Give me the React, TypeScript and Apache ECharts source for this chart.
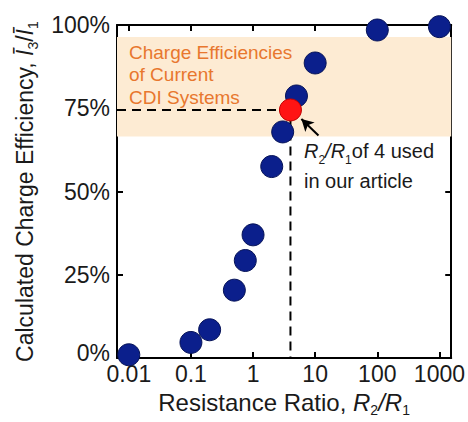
import React, { useEffect, useRef } from "react";
import * as echarts from "echarts";

const ratios = [0.01, 0.1, 0.2, 0.5, 0.75, 1, 2, 3, 5, 10, 100, 1000];
const efficiencies = [1, 4.7, 8.5, 20.4, 29.3, 37, 57.5, 67.9, 78.7, 88.6, 98.5, 99.5];
const usedRatio = [4];
const usedEfficiency = [74.5];
const bandRange = [66.5, 96.4];
const xTickExponents = [-2, -1, 0, 1, 2, 3];
const xTickLabels = ["0.01", "0.1", "1", "10", "100", "1000"];
const arrowFrom = [11.3, 66.8];
const arrowTo = [6.0, 71.8];

const X_MIN = -2.19;
const X_MAX = 3.19;
const FONT = "'Liberation Sans', Arial, Helvetica, sans-serif";
const INK = "#1a1a1a";

export default function App() {
  const ref = useRef<HTMLDivElement>(null);
  useEffect(() => {
    if (!ref.current) return;
    const chart = echarts.init(ref.current, undefined, { renderer: "svg" });
    const lg = (v: number) => Math.log10(v);
    const tick = { show: true, inside: true, length: 6, lineStyle: { color: "#000", width: 2 } };
    const line = { show: true, onZero: false, lineStyle: { color: "#000", width: 2 } };
    const xCommon = { type: "value" as const, min: X_MIN, max: X_MAX, axisLine: line, splitLine: { show: false } };
    const yCommon = { type: "value" as const, min: 0, max: 100, interval: 25, axisLine: line, splitLine: { show: false }, axisTick: tick };
    const titleRich = (size: number) => ({
      it: { fontStyle: "italic", fontSize: size, fontFamily: FONT, color: INK, lineHeight: 30 },
      sub: { fontSize: 14, fontFamily: FONT, color: INK, lineHeight: 13, verticalAlign: "bottom" },
      n: { fontSize: size, fontFamily: FONT, color: INK, lineHeight: 30 },
    });
    chart.setOption({
      animation: false,
      grid: { left: 117, right: 15, top: 25, bottom: 60 },
      xAxis: [
        {
          ...xCommon,
          position: "bottom",
          name: "{n|Resistance Ratio, }{it|R}{sub|2}{it|/R}{sub|1}",
          nameLocation: "middle",
          nameGap: 18,
          nameTextStyle: { rich: titleRich(24) },
          axisTick: { ...tick, customValues: xTickExponents },
          axisLabel: {
            show: true,
            customValues: xTickExponents,
            formatter: (v: number) => xTickLabels[xTickExponents.indexOf(Math.round(v))] ?? "",
            fontSize: 23,
            fontFamily: FONT,
            color: INK,
            margin: 4,
          },
        },
        {
          ...xCommon,
          position: "top",
          axisTick: { ...tick, customValues: xTickExponents },
          axisLabel: { show: false },
        },
      ],
      yAxis: [
        {
          ...yCommon,
          position: "left",
          axisLabel: {
            fontSize: 23,
            fontFamily: FONT,
            color: INK,
            margin: 7,
            formatter: (v: number) => (v === 0 ? "{z|0%}" : v + "%"),
            rich: { z: { fontSize: 23, fontFamily: FONT, color: INK, padding: [0, 0, 11, 0] } },
          },
          name: "{n|Calculated Charge Efficiency, }{it|Ī}{sub|3}{n|/}{it|Ī}{sub|1}",
          nameLocation: "middle",
          nameGap: 68,
          nameTextStyle: { rich: titleRich(23) },
        },
        {
          ...yCommon,
          position: "right",
          axisLabel: { show: false },
        },
      ],
      graphic: [
        {
          type: "text",
          left: 129,
          top: 41,
          z: 5,
          style: {
            text: "Charge Efficiencies\nof Current\nCDI Systems",
            fontSize: 19,
            lineHeight: 22.5,
            fontFamily: FONT,
            fill: "#e8772e",
          },
        },
        {
          type: "text",
          left: 304,
          top: 141,
          z: 5,
          style: {
            text: "{it|R}{sub|2}{it|/R}{sub|1}{n|of 4 used}\n{n|in our article}",
            fontFamily: FONT,
            rich: {
              it: { fontStyle: "italic", fontSize: 20, fontFamily: FONT, fill: INK, lineHeight: 30 },
              sub: { fontSize: 12, fontFamily: FONT, fill: INK, lineHeight: 12, verticalAlign: "bottom" },
              n: { fontSize: 20, fontFamily: FONT, fill: INK, lineHeight: 30 },
            },
          },
        },
      ],
      series: [
        {
          name: "guides",
          type: "line",
          z: 1,
          symbol: "none",
          silent: true,
          data: [
            [X_MIN, usedEfficiency[0]],
            [lg(usedRatio[0]), usedEfficiency[0]],
            [lg(usedRatio[0]), 0],
          ],
          lineStyle: { color: "#000", width: 2, type: [9, 6] },
          markArea: {
            silent: true,
            itemStyle: { color: "#fdebd3" },
            data: [[{ xAxis: X_MIN, yAxis: bandRange[0] }, { xAxis: X_MAX, yAxis: bandRange[1] }]],
          },
        },
        {
          name: "Charge efficiency",
          type: "scatter",
          z: 3,
          symbolSize: 22,
          data: ratios.map((r, i) => [lg(r), efficiencies[i]]),
          itemStyle: { color: "#0b1f8c", borderColor: "#061358", borderWidth: 1, opacity: 1 },
        },
        {
          name: "Used ratio",
          type: "scatter",
          z: 4,
          symbolSize: 22,
          data: usedRatio.map((r, i) => [lg(r), usedEfficiency[i]]),
          itemStyle: { color: "#ff1414", borderColor: "#c00000", borderWidth: 1, opacity: 1 },
          markLine: {
            silent: true,
            symbol: ["none", "arrow"],
            symbolSize: [10, 12],
            label: { show: false },
            lineStyle: { color: "#000", width: 2, type: "solid" },
            data: [[{ coord: [lg(arrowFrom[0]), arrowFrom[1]] }, { coord: [lg(arrowTo[0]), arrowTo[1]] }]],
          },
        },
      ],
    });
    return () => chart.dispose();
  }, []);
  return <div ref={ref} style={{ position: "absolute", left: 0, top: 0, width: 468, height: 422 }} />;
}
